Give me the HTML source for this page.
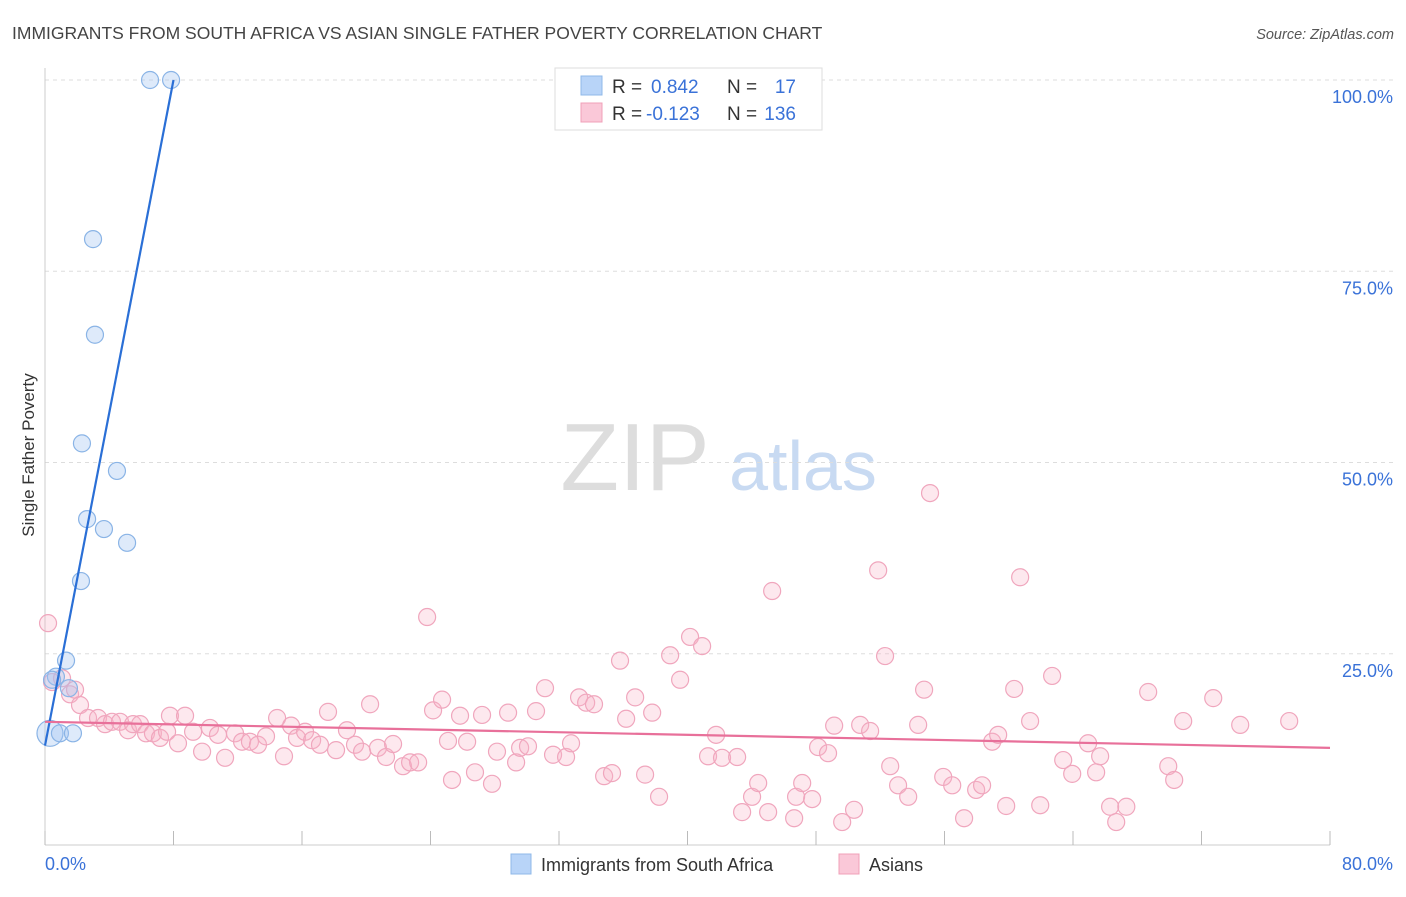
<!DOCTYPE html>
<html><head><meta charset="utf-8"><style>
body{margin:0;background:#fff;font-family:"Liberation Sans",sans-serif;}
svg text{font-family:"Liberation Sans",sans-serif;}
</style></head><body>
<svg id="chart" width="1406" height="892" xmlns="http://www.w3.org/2000/svg">
<text x="12" y="39" font-size="17.5" fill="#444">IMMIGRANTS FROM SOUTH AFRICA VS ASIAN SINGLE FATHER POVERTY CORRELATION CHART</text>
<text x="1394" y="39" font-size="14.5" fill="#555" text-anchor="end" font-style="italic">Source: ZipAtlas.com</text>
<g>
<text x="635" y="490" font-size="96" fill="#ddd" text-anchor="middle" font-family="Liberation Serif,serif">ZIP</text>
<text x="803" y="490" font-size="70" fill="#c8daf2" text-anchor="middle">atlas</text>
</g>
<g id="grid"></g>
<g id="axes"></g>
<text transform="translate(34,455) rotate(-90)" font-size="17" fill="#333" text-anchor="middle">Single Father Poverty</text>
<g id="marks"></g>
<g>
<rect x="555" y="68" width="267" height="62" fill="#fff" stroke="#ddd"/>
<rect x="581" y="76" width="21" height="19" fill="#b8d4f8" stroke="#8fb8e8"/>
<rect x="581" y="103" width="21" height="19" fill="#fac8d8" stroke="#f0a0b8"/>
<text x="612" y="93" font-size="19" fill="#333">R =</text>
<text x="651" y="93" font-size="19" fill="#3a72d8">0.842</text>
<text x="727" y="93" font-size="19" fill="#333">N =</text>
<text x="796" y="93" font-size="19" fill="#3a72d8" text-anchor="end">17</text>
<text x="612" y="120" font-size="19" fill="#333">R =</text>
<text x="646" y="120" font-size="19" fill="#3a72d8">-0.123</text>
<text x="727" y="120" font-size="19" fill="#333">N =</text>
<text x="796" y="120" font-size="19" fill="#3a72d8" text-anchor="end">136</text>
</g>
<g>
<rect x="511" y="854" width="20" height="20" fill="#b8d4f8" stroke="#8fb8e8"/>
<text x="541" y="871" font-size="18" fill="#333">Immigrants from South Africa</text>
<rect x="839" y="854" width="20" height="20" fill="#fac8d8" stroke="#f0a0b8"/>
<text x="869" y="871" font-size="18" fill="#333">Asians</text>
</g>
</svg>
<script>
const xTicks=[0,8,16,24,32,40,48,56,64,72,80];
const yTicks=[25,50,75,100];
const yTickLabels=["25.0%","50.0%","75.0%","100.0%"];
const xEndLabels=["0.0%","80.0%"];
const blueX=[6.54,7.85,2.99,3.11,2.30,4.48,2.62,3.67,5.11,2.24,1.31,0.68,1.49,0.31,0.93,1.74,0.44];
const blueY=[100,100,79.2,66.7,52.5,48.9,42.6,41.3,39.5,34.5,24.1,22.0,20.5,14.6,14.6,14.6,21.6];
const pinkX=[0.19,0.44,1.06,1.56,1.87,2.18,2.68,3.30,3.74,4.17,4.67,5.17,5.48,5.92,6.29,6.72,7.16,7.60,7.78,8.28,8.72,9.22,9.78,10.27,10.77,11.21,11.83,12.27,12.76,13.26,13.76,14.45,14.88,15.32,15.69,16.19,16.63,17.12,17.62,18.12,18.80,19.30,19.74,20.24,20.73,21.23,21.67,22.29,22.73,23.23,23.79,24.16,24.72,25.09,25.34,25.84,26.28,26.77,27.21,27.83,28.14,28.83,29.33,29.58,30.07,30.57,31.13,31.63,32.44,32.75,33.25,33.69,34.18,34.81,35.30,35.80,36.18,36.74,37.36,37.80,38.23,38.92,39.54,40.16,40.91,41.28,41.78,42.15,43.09,43.40,44.02,44.40,45.02,45.27,46.64,46.76,47.14,47.76,48.13,48.75,49.13,49.63,50.37,50.75,51.37,51.87,52.30,52.62,53.11,53.74,54.36,54.73,55.10,55.92,56.48,57.22,57.97,58.34,58.97,59.34,59.84,60.34,60.71,61.33,61.96,62.70,63.39,63.95,64.94,65.44,65.69,66.31,66.69,67.32,68.68,69.93,70.30,70.86,72.73,74.41,77.46];
const pinkY=[29.0,21.3,21.8,19.7,20.3,18.3,16.6,16.6,15.8,16.1,16.1,15.0,15.8,15.8,14.6,14.6,14.0,14.8,16.9,13.3,16.9,14.8,12.2,15.3,14.4,11.4,14.6,13.5,13.5,13.1,14.2,16.6,11.6,15.6,14.0,14.8,13.7,13.1,17.4,12.4,15.0,13.1,12.2,18.4,12.7,11.5,13.2,10.3,10.8,10.8,29.8,17.6,19.0,13.6,8.5,16.9,13.5,9.5,17.0,8.0,12.2,17.3,10.8,12.7,12.9,17.5,20.5,11.8,11.5,13.3,19.3,18.6,18.4,9.0,9.4,24.1,16.5,19.3,9.2,17.3,6.3,24.8,21.6,27.2,26.0,11.6,14.4,11.4,11.5,4.3,6.3,8.1,4.3,33.2,3.5,6.3,8.1,6.0,12.8,12.0,15.6,3.0,4.6,15.7,14.9,35.9,24.7,10.3,7.8,6.3,15.7,20.3,46.0,8.9,7.8,3.5,7.2,7.8,13.5,14.4,5.1,20.4,35.0,16.2,5.2,22.1,11.1,9.3,13.3,9.5,11.6,5.0,3.0,5.0,20.0,10.3,8.5,16.2,19.2,15.7,16.2];
const blueTrend=[[0,13.0],[8,100]];
const pinkTrend=[[0,16.1],[80,12.7]];
const NS="http://www.w3.org/2000/svg";
const X=v=>45+v/80*1285, Y=v=>845-v/100*765;
function mk(t,a,p){const e=document.createElementNS(NS,t);for(const k in a)e.setAttribute(k,a[k]);p.appendChild(e);return e;}
const grid=document.getElementById('grid'),axes=document.getElementById('axes'),marks=document.getElementById('marks');
yTicks.forEach((t,i)=>{
 const l=mk('line',{x1:45,x2:1394,y1:Y(t),y2:Y(t),stroke:'#ddd','stroke-dasharray':'4,4'},grid);
 
 
 const tx=mk('text',{x:1393,y:Y(t)+23,'font-size':18,fill:'#3a72d8','text-anchor':'end'},axes);
 tx.textContent=yTickLabels[i];
 
 
});
const ax=mk('line',{x1:45,x2:1330,y1:845,y2:845,stroke:'#ccc'},axes);


const ay=mk('line',{x1:45,x2:45,y1:68,y2:845,stroke:'#ccc'},axes);


xTicks.forEach(t=>{
 const l=mk('line',{x1:X(t),x2:X(t),y1:831,y2:845,stroke:'#bbb'},axes);
 
 
});
[[0,'start',45],[80,'end',1393]].forEach((d,i)=>{
 const tx=mk('text',{x:d[2],y:870,'font-size':18,fill:'#3a72d8','text-anchor':d[1]},axes);
 tx.textContent=xEndLabels[i];
 
 
});
pinkX.forEach((x,i)=>{
 const c=mk('circle',{cx:X(x),cy:Y(pinkY[i]),r:8.5,fill:'rgba(248,180,200,0.3)',stroke:'#f0a6bd','stroke-width':1.2},marks);
 
 
});
blueX.forEach((x,i)=>{
 const c=mk('circle',{cx:X(x),cy:Y(blueY[i]),r:i==13?13:8.5,fill:'rgba(160,196,240,0.35)',stroke:'#8ab4e6','stroke-width':1.2},marks);
 
 
});
const bl=mk('line',{x1:X(blueTrend[0][0]),y1:Y(blueTrend[0][1]),x2:X(blueTrend[1][0]),y2:Y(blueTrend[1][1]),stroke:'#2a6fd6','stroke-width':2.2},marks);


const pl=mk('line',{x1:X(pinkTrend[0][0]),y1:Y(pinkTrend[0][1]),x2:X(pinkTrend[1][0]),y2:Y(pinkTrend[1][1]),stroke:'#e8709a','stroke-width':2.2},marks);


</script>
</body></html>
